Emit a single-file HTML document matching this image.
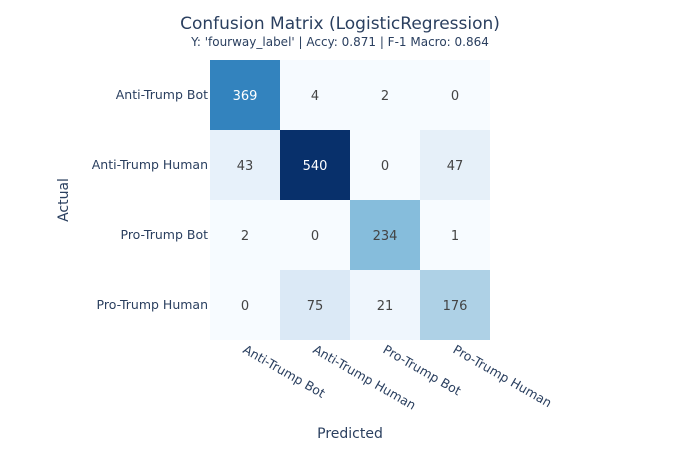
<!DOCTYPE html>
<html><head><meta charset="utf-8"><style>
body{margin:0;background:#fff;}
svg{font-family:"DejaVu Sans","Liberation Sans",sans-serif;display:block;}
</style></head><body>
<svg id="chart" width="700" height="450">
<text x="340" y="29" text-anchor="middle" font-size="17" fill="#2a3f5f">Confusion Matrix (LogisticRegression)</text>
<text x="340" y="46" text-anchor="middle" font-size="12" fill="#2a3f5f">Y: 'fourway_label' | Accy: 0.871 | F-1 Macro: 0.864</text>
<g id="cells"></g>
<g id="ylabels"></g>
<g id="xlabels"></g>
<text x="350" y="438" text-anchor="middle" font-size="14" fill="#2a3f5f">Predicted</text>
<text transform="translate(68,200) rotate(-90)" text-anchor="middle" font-size="14" fill="#2a3f5f">Actual</text>
</svg>
<script>
const categories = ["Anti-Trump Bot","Anti-Trump Human","Pro-Trump Bot","Pro-Trump Human"];
const row0 = [369,4,2,0];
const row1 = [43,540,0,47];
const row2 = [2,0,234,1];
const row3 = [0,75,21,176];
const matrix = [row0,row1,row2,row3];

const NS="http://www.w3.org/2000/svg";
const x0=210,y0=60,cw=70,ch=70;
const xPos=i=>x0+i*cw, yPos=i=>y0+i*ch;
const blues=["#f7fbff","#deebf7","#c6dbef","#9ecae1","#6baed6","#4292c6","#2171b5","#08519c","#08306b"];
const all=matrix.flat(), vmax=Math.max(...all), vmin=Math.min(...all);
function hex(h){return [1,3,5].map(k=>parseInt(h.substr(k,2),16));}
function color(v){
  const t=(v-vmin)/(vmax-vmin||1)*(blues.length-1);
  const i=Math.min(Math.floor(t),blues.length-2), f=t-i;
  const a=hex(blues[i]),b=hex(blues[i+1]);
  return "rgb("+a.map((c,k)=>Math.round(c+(b[k]-c)*f)).join(",")+")";
}
const cells=document.getElementById("cells");
matrix.forEach((row,r)=>row.forEach((v,c)=>{
  const rect=document.createElementNS(NS,"rect");
  rect.setAttribute("x",xPos(c));rect.setAttribute("y",yPos(r));
  rect.setAttribute("width",cw);rect.setAttribute("height",ch);
  rect.setAttribute("fill",color(v));
  
  
  cells.appendChild(rect);
  const t=document.createElementNS(NS,"text");
  t.setAttribute("x",xPos(c)+cw/2);t.setAttribute("y",yPos(r)+ch/2+5);
  t.setAttribute("text-anchor","middle");t.setAttribute("font-size","13");
  t.setAttribute("fill",(v-vmin)/(vmax-vmin)>0.6?"#fff":"#444");
  t.textContent=v;
  
  
  cells.appendChild(t);
}));
const yl=document.getElementById("ylabels"), xl=document.getElementById("xlabels");
categories.forEach((c,i)=>{
  const t=document.createElementNS(NS,"text");
  t.setAttribute("x",x0-2);t.setAttribute("y",yPos(i)+ch/2+4);
  t.setAttribute("text-anchor","end");t.setAttribute("font-size","12.5");t.setAttribute("fill","#2a3f5f");
  t.textContent=c;
  
  
  yl.appendChild(t);
  const u=document.createElementNS(NS,"text");
  const cx=xPos(i)+cw/2;
  u.setAttribute("transform","translate("+(cx-3)+",352) rotate(30)");
  u.setAttribute("font-size","12.5");u.setAttribute("fill","#2a3f5f");
  u.textContent=c;
  
  
  xl.appendChild(u);
});
</script>
</body></html>
